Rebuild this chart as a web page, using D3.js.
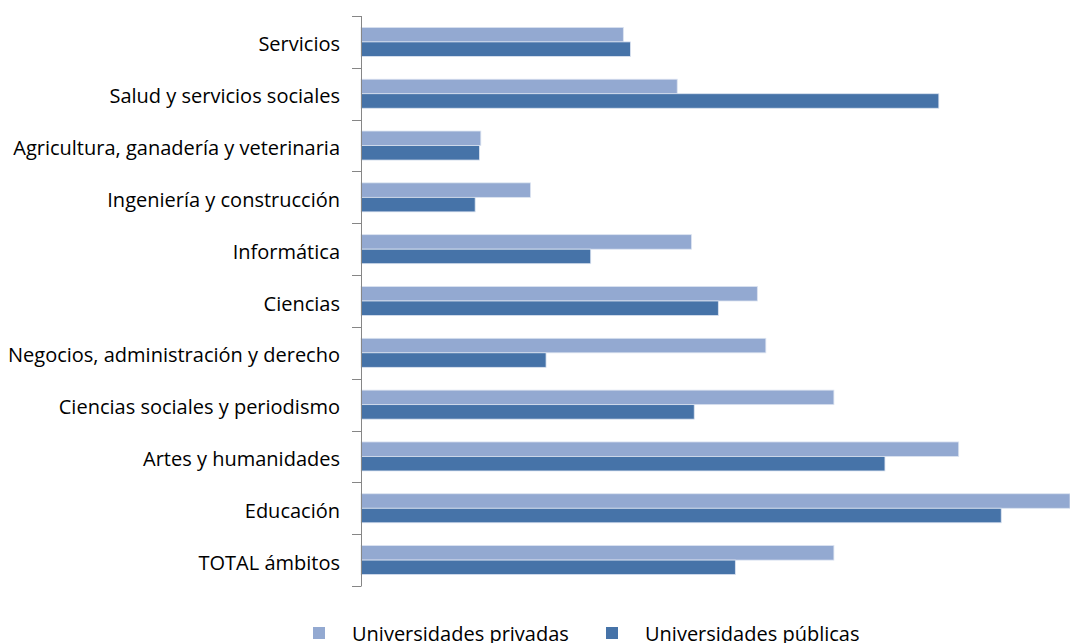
<!DOCTYPE html>
<html>
<head>
<meta charset="utf-8">
<script src="https://cdn.jsdelivr.net/npm/d3@7"></script>
<style>
  body { margin: 0; background: #fff; }
  text { font-family: "Open Sans", sans-serif; fill: #000; }
</style>
</head>
<body>
<script>
"use strict";
(function(){
    // categories, top to bottom
    const categories = [
        "Servicios",
        "Salud y servicios sociales",
        "Agricultura, ganadería y veterinaria",
        "Ingeniería y construcción",
        "Informática",
        "Ciencias",
        "Negocios, administración y derecho",
        "Ciencias sociales y periodismo",
        "Artes y humanidades",
        "Educación",
        "TOTAL ámbitos"
    ]
    const seriesNames = ["Universidades privadas", "Universidades públicas"]
    // values (relative scale, max = 100)
    const privadas = [37.0, 44.6, 16.9, 23.9, 46.6, 55.9, 57.1, 66.7, 84.3, 100, 66.7]
    const publicas = [38.0, 81.5, 16.7, 16.1, 32.4, 50.4, 26.1, 47.0, 73.9, 90.3, 52.8]

    const colors = ["#93A9D1", "#4673A8"]

    const measurements = {
        width: 1070,
        height: 643,
        left: 361,
        right: 1070,
        top: 16,
        bottom: 586
    }

    const svg = d3.select("body").append("svg")
        .attr("width", measurements.width)
        .attr("height", measurements.height)

    const scaleX = d3.scaleLinear()
        .domain([0, 100])
        .range([measurements.left, measurements.right])

    const scaleY = d3.scaleBand()
        .domain(categories)
        .range([measurements.top, measurements.bottom])
        .paddingInner(0.44)
        .paddingOuter(0.22)

    const inner = d3.scaleBand()
        .domain([0, 1])
        .range([0, scaleY.bandwidth()])

    const rows = categories.map((c, i) => ({ cat: c, vals: [privadas[i], publicas[i]] }))

    // bars
    const groups = svg.selectAll(".grp")
        .data(rows)
        .enter().append("g")
        .attr("class", "grp")
        .attr("transform", d => "translate(0," + scaleY(d.cat) + ")")

    groups.selectAll("rect")
        .data(d => d.vals)
        .enter().append("rect")
        .attr("x", scaleX(0))
        .attr("y", (d, i) => inner(i))
        .attr("width", d => scaleX(d) - scaleX(0))
        .attr("height", inner.bandwidth())
        .attr("fill", (d, i) => colors[i])
        .attr("stroke", "#dbe3f0")
        .attr("stroke-width", 0.8)

    // y axis with ticks between categories
    const boundaries = d3.range(categories.length + 1).map(i => measurements.top + i * (measurements.bottom - measurements.top) / categories.length)
    const axis = svg.append("g").attr("class", "axis")
    axis.append("line")
        .attr("x1", measurements.left + 0.5).attr("x2", measurements.left + 0.5)
        .attr("y1", measurements.top).attr("y2", measurements.bottom)
        .attr("stroke", "#868686")
    axis.selectAll(".tk")
        .data(boundaries)
        .enter().append("line")
        .attr("class", "tk")
        .attr("x1", measurements.left - 9).attr("x2", measurements.left + 0.5)
        .attr("y1", d => Math.round(d) + 0.5).attr("y2", d => Math.round(d) + 0.5)
        .attr("stroke", "#868686")

    axis.selectAll(".lbl")
        .data(categories)
        .enter().append("text")
        .attr("class", "lbl")
        .attr("x", 340)
        .attr("y", (d, i) => (boundaries[i] + boundaries[i + 1]) / 2 + 9.5)
        .attr("text-anchor", "end")
        .style("font-size", "20px")
        .text(d => d)

    // legend
    const legendX = [313, 606]
    const legend = svg.selectAll(".legend")
        .data(seriesNames)
        .enter().append("g")
        .attr("class", "legend")
        .attr("transform", (d, i) => "translate(" + legendX[i] + ",627)")

    legend.append("rect")
        .attr("width", 12)
        .attr("height", 12)
        .attr("fill", (d, i) => colors[i])

    legend.append("text")
        .attr("x", 39)
        .attr("y", 13.5)
        .style("font-size", "20px")
        .text(d => d)
})()
</script>
</body>
</html>
